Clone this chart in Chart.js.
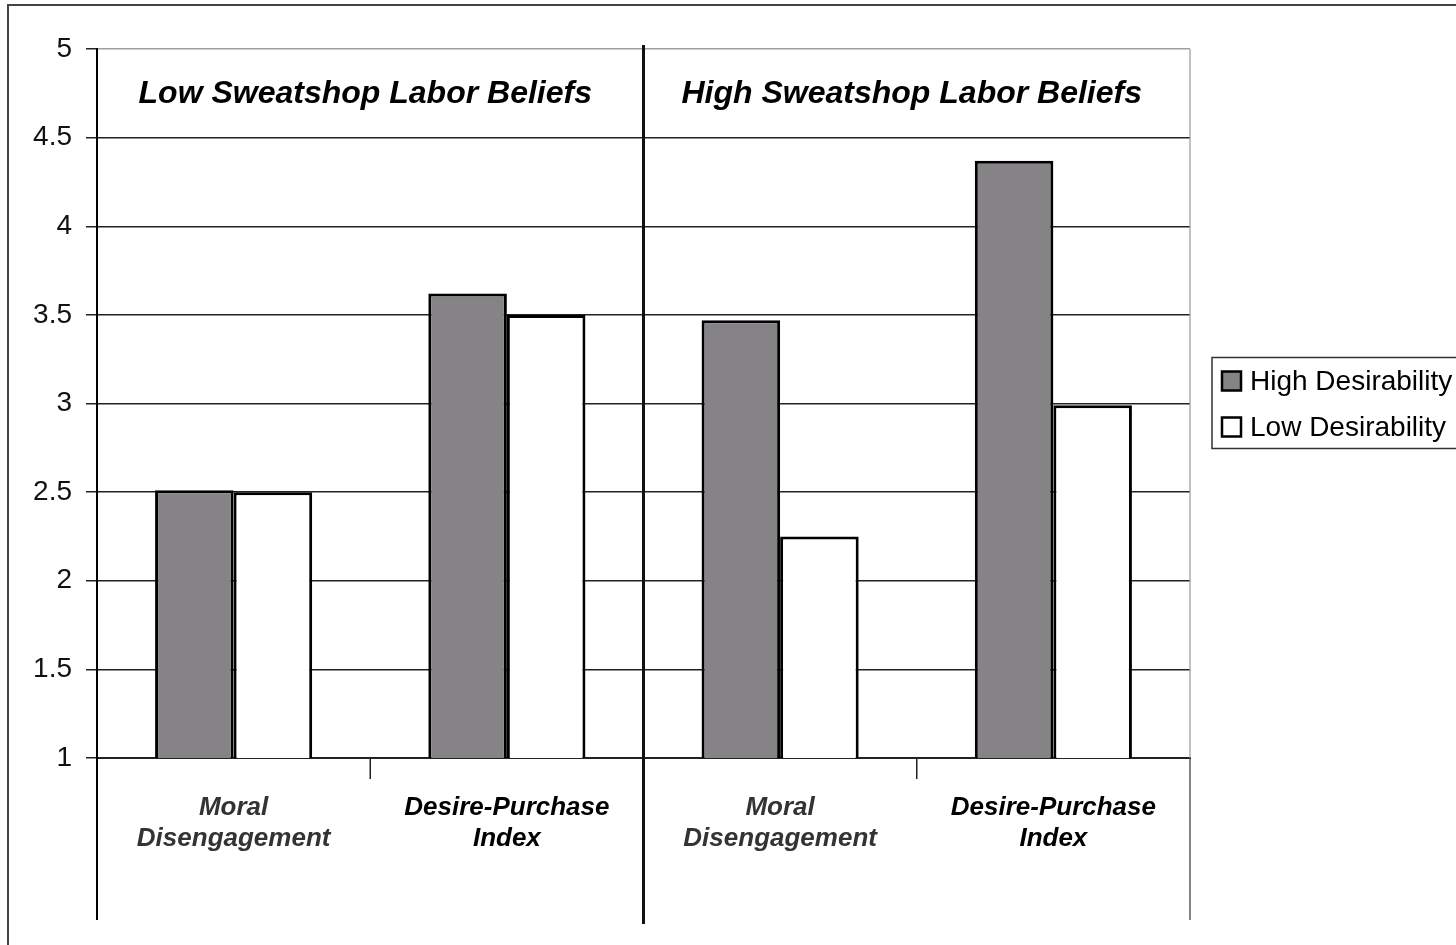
<!DOCTYPE html>
<html>
<head>
<meta charset="utf-8">
<script src="https://cdn.jsdelivr.net/npm/chart.js@4.4.0/dist/chart.umd.min.js"></script>
<style>
  html, body { margin: 0; padding: 0; background: #fff; }
  #wrap { width: 1456px; height: 945px; position: relative; }
</style>
</head>
<body>
<div id="wrap"><canvas id="barChart" width="1456" height="945"></canvas></div>
<script>
// chart data
var categories = [
    ['Moral', 'Disengagement'],
    ['Desire-Purchase', 'Index'],
    ['Moral', 'Disengagement'],
    ['Desire-Purchase', 'Index']
];
var groups = ['Low Sweatshop Labor Beliefs', 'High Sweatshop Labor Beliefs'];
var seriesNames = ['High Desirability', 'Low Desirability'];
var highDesirability = [2.51, 3.62, 3.47, 4.37];
var lowDesirability = [2.50, 3.50, 2.25, 2.99];
var yTicks = [1, 1.5, 2, 2.5, 3, 3.5, 4, 4.5, 5];

var FONT = "'Liberation Sans', Arial, sans-serif";

// boundary between two neighbouring categories, from the x scale
function boundary(xs, i) {
    if (i < 0) return xs.left;
    if (i >= xs.ticks.length - 1) return xs.right;
    return (xs.getPixelForTick(i) + xs.getPixelForTick(i + 1)) / 2;
}

var decorations = {
    id: 'decorations',
    afterDraw: function (chart) {
        var ctx = chart.ctx;
        var area = chart.chartArea;
        var xs = chart.scales.x;
        var ys = chart.scales.y;
        var lineBottom = area.bottom + 162;
        ctx.save();

        // outer frame
        ctx.strokeStyle = '#444';
        ctx.lineWidth = 2;
        ctx.strokeRect(8, 5, 1600, 1100);

        // right edge of plot
        ctx.strokeStyle = '#999';
        ctx.lineWidth = 1.2;
        ctx.beginPath();
        ctx.moveTo(area.right, area.top);
        ctx.lineTo(area.right, area.bottom);
        ctx.stroke();
        ctx.strokeStyle = '#333';
        ctx.beginPath();
        ctx.moveTo(area.right, area.bottom);
        ctx.lineTo(area.right, lineBottom);
        ctx.stroke();

        // left axis extension below the plot
        ctx.strokeStyle = '#000';
        ctx.lineWidth = 2;
        ctx.beginPath();
        ctx.moveTo(area.left, area.bottom);
        ctx.lineTo(area.left, lineBottom);
        ctx.stroke();

        // short ticks between categories of a group
        ctx.lineWidth = 1.5;
        ctx.strokeStyle = '#222';
        [0, 2].forEach(function (i) {
            var x = boundary(xs, i);
            ctx.beginPath();
            ctx.moveTo(x, area.bottom);
            ctx.lineTo(x, area.bottom + 21);
            ctx.stroke();
        });

        // divider between the two groups
        var mid = boundary(xs, 1);
        ctx.strokeStyle = '#111';
        ctx.lineWidth = 3;
        ctx.beginPath();
        ctx.moveTo(mid, area.top - 4);
        ctx.lineTo(mid, lineBottom + 4);
        ctx.stroke();

        // group headers
        ctx.fillStyle = '#000';
        ctx.font = 'italic bold 32px ' + FONT;
        ctx.textAlign = 'center';
        ctx.textBaseline = 'middle';
        var hy = (area.top + ys.getPixelForValue(4.5)) / 2 + 1;
        groups.forEach(function (g, k) {
            var x0 = boundary(xs, k * 2 - 1);
            var x1 = boundary(xs, k * 2 + 1);
            ctx.fillText(g, (x0 + x1) / 2 - 5, hy);
        });

        // legend
        var lx = area.right + 22;
        var ly = (area.top + area.bottom) / 2 - 46;
        ctx.strokeStyle = '#333';
        ctx.lineWidth = 1.5;
        ctx.strokeRect(lx, ly, 400, 91);
        ctx.font = '28px ' + FONT;
        ctx.textAlign = 'left';
        chart.data.datasets.forEach(function (ds, i) {
            var cy = ly + 24 + i * 46;
            ctx.fillStyle = ds.backgroundColor;
            ctx.fillRect(lx + 10, cy - 10, 19, 19);
            ctx.strokeStyle = '#000';
            ctx.lineWidth = 2.5;
            ctx.strokeRect(lx + 10, cy - 10, 19, 19);
            ctx.fillStyle = '#000';
            ctx.fillText(ds.label, lx + 38, cy + 1);
        });
        ctx.restore();
    }
};

var ctx_bar = document.getElementById('barChart');
var barChart = new Chart(ctx_bar, {
    type: 'bar',
    data: {
        labels: categories,
        datasets: [{
            label: seriesNames[0],
            data: highDesirability,
            backgroundColor: '#858386',
            borderColor: '#000',
            borderWidth: 3,
            borderSkipped: false
        }, {
            label: seriesNames[1],
            data: lowDesirability,
            backgroundColor: '#ffffff',
            borderColor: '#000',
            borderWidth: 3,
            borderSkipped: false
        }]
    },
    options: {
        responsive: false,
        animation: false,
        categoryPercentage: 0.575,
        barPercentage: 1.0,
        layout: {
            padding: { left: 0, top: 49, right: 266, bottom: 0 }
        },
        plugins: {
            legend: { display: false },
            tooltip: { enabled: false }
        },
        scales: {
            x: {
                grid: { display: false, drawTicks: false },
                border: { display: true, color: '#222', width: 2 },
                ticks: {
                    padding: 34,
                    maxRotation: 0,
                    autoSkip: false,
                    font: { family: FONT, size: 26, style: 'italic', weight: 'bold', lineHeight: 1.2 },
                    color: function (c) { return c.index % 2 === 0 ? '#333' : '#000'; }
                },
                afterFit: function (s) { s.height = 945 - 758; }
            },
            y: {
                min: 1,
                max: 5,
                afterBuildTicks: function (s) {
                    s.ticks = yTicks.map(function (v) { return { value: v }; });
                },
                grid: {
                    color: function (c) { return c.tick && c.tick.value === 5 ? '#a0a0a0' : '#222'; },
                    lineWidth: 1.5,
                    tickLength: 11,
                    tickColor: '#222'
                },
                border: { display: true, color: '#000', width: 2 },
                ticks: {
                    padding: 14,
                    font: { family: FONT, size: 28 },
                    color: '#111',
                    callback: function (v) { return String(v); }
                },
                afterFit: function (s) { s.width = 97; }
            }
        }
    },
    plugins: [decorations]
});
</script>
</body>
</html>
